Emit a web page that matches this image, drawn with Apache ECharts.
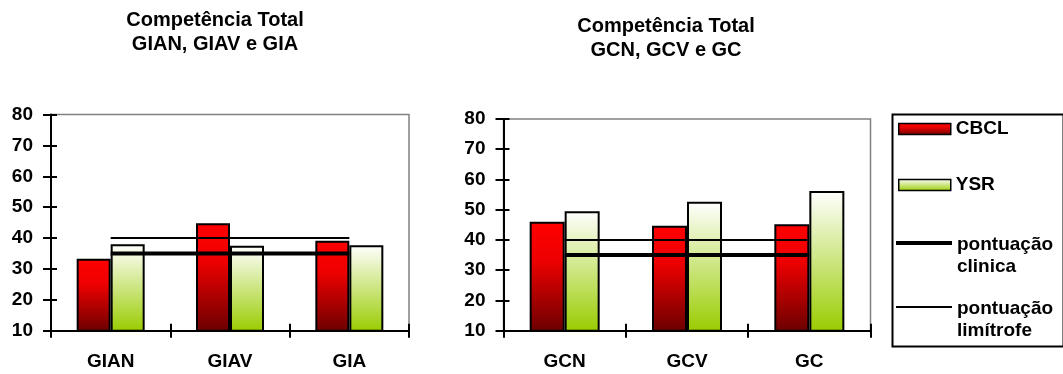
<!DOCTYPE html>
<html>
<head>
<meta charset="utf-8">
<script src="https://cdn.jsdelivr.net/npm/echarts@6/dist/echarts.min.js"></script>
<style>
  html, body { margin: 0; padding: 0; background: #fff; }
  #chart { width: 1063px; height: 374px; }
</style>
</head>
<body>
<div id="chart"></div>
<script>
// Competência Total — two groups of subscales, CBCL vs YSR scores
const categoriesA = ['GIAN', 'GIAV', 'GIA'];
const cbclA = [33.3, 44.8, 39.1];
const ysrA = [38.0, 37.5, 37.7];

const categoriesB = ['GCN', 'GCV', 'GC'];
const cbclB = [46.0, 44.7, 45.2];
const ysrB = [49.5, 52.6, 56.2];

// Reference cut-off scores drawn across each panel
const clinicalA = [35, 35, 35];
const borderlineA = [40, 40, 40];
const clinicalB = [35, 35, 35];
const borderlineB = [40, 40, 40];

const yTicks = { min: 10, max: 80, interval: 10 };

const FONT = '"Liberation Sans", Arial, sans-serif';

const redFill = new echarts.graphic.LinearGradient(0, 0, 0, 1, [
  { offset: 0, color: '#ff0000' },
  { offset: 0.35, color: '#ee0000' },
  { offset: 1, color: '#6b0000' }
]);
const greenFill = new echarts.graphic.LinearGradient(0, 0, 0, 1, [
  { offset: 0, color: '#ffffff' },
  { offset: 1, color: '#99cc00' }
]);

function mainX(gridIndex, data) {
  return {
    type: 'category', gridIndex, data, position: 'bottom',
    axisLine: { onZero: false, lineStyle: { color: '#000', width: 2 } },
    axisTick: { show: true, length: 7, lineStyle: { color: '#000', width: 2 } },
    axisLabel: { color: '#000', fontFamily: FONT, fontWeight: 'bold', fontSize: 19, margin: 22 },
    splitLine: { show: false }
  };
}
function innerX(gridIndex, data) {
  return {
    type: 'category', gridIndex, data, position: 'bottom',
    axisLine: { show: false, onZero: false },
    axisTick: { show: true, inside: true, length: 7, lineStyle: { color: '#000', width: 2 } },
    axisLabel: { show: false },
    splitLine: { show: false }
  };
}
function mainY(gridIndex) {
  return {
    type: 'value', gridIndex, position: 'left',
    min: yTicks.min, max: yTicks.max, interval: yTicks.interval,
    axisLine: { show: true, lineStyle: { color: '#000', width: 2 } },
    axisTick: { show: true, length: 8, lineStyle: { color: '#000', width: 2 } },
    axisLabel: { color: '#000', fontFamily: FONT, fontWeight: 'bold', fontSize: 19, margin: 18 },
    splitLine: { show: false }
  };
}
function innerY(gridIndex) {
  return {
    type: 'value', gridIndex, position: 'left',
    min: yTicks.min, max: yTicks.max, interval: yTicks.interval,
    axisLine: { show: false },
    axisTick: { show: true, inside: true, length: 6, lineStyle: { color: '#000', width: 2 } },
    axisLabel: { show: false },
    splitLine: { show: false }
  };
}

function bars(name, data, fill, axisIdx, width) {
  return {
    name, type: 'bar', data, xAxisIndex: axisIdx, yAxisIndex: axisIdx,
    barWidth: width, barGap: '0%',
    itemStyle: { color: fill, borderColor: '#000', borderWidth: 2 },
    z: 2
  };
}
function refLine(name, data, axisIdx, width) {
  return {
    name, type: 'line', data, xAxisIndex: axisIdx, yAxisIndex: axisIdx,
    symbol: 'none', showSymbol: false, lineStyle: { color: '#000', width },
    itemStyle: { color: '#000' },
    z: 5
  };
}

const legendText = {
  color: '#000', fontFamily: FONT, fontWeight: 'bold', fontSize: 19, lineHeight: 22
};
function legendItem(name, top, extra) {
  return Object.assign({
    data: [name], left: 898, top, padding: 0,
    itemWidth: 52, itemHeight: 11, selectedMode: false,
    textStyle: legendText
  }, extra);
}
// line entries: a flat black bar as key; an empty spacer line above the
// two-line caption keeps its first line level with the key
function lineLegendItem(name, top, thickness) {
  return legendItem(name, top, {
    left: 896, icon: 'rect', itemWidth: 56, itemHeight: thickness,
    itemStyle: { color: '#000', borderWidth: 0 },
    formatter: n => '{gap|\u00a0}\n{t|' + n.replace(' ', '}\n{t|') + '}',
    textStyle: Object.assign({}, legendText, {
      rich: {
        gap: { fontSize: 4, lineHeight: 26 },
        t: { color: '#000', fontFamily: FONT, fontWeight: 'bold', fontSize: 19, lineHeight: 22 }
      }
    })
  });
}

const chart = echarts.init(document.getElementById('chart'), null, { renderer: 'canvas' });
chart.setOption({
  animation: false,
  backgroundColor: '#fff',
  title: [
    {
      text: 'Competência Total\nGIAN, GIAV e GIA', left: 215, top: 8, textAlign: 'center', padding: 0,
      textStyle: { color: '#000', fontFamily: FONT, fontWeight: 'bold', fontSize: 20, lineHeight: 24 }
    },
    {
      text: 'Competência Total\nGCN, GCV e GC', left: 666, top: 14, textAlign: 'center', padding: 0,
      textStyle: { color: '#000', fontFamily: FONT, fontWeight: 'bold', fontSize: 20, lineHeight: 24 }
    }
  ],
  grid: [
    { left: 51, top: 114.5, width: 358, height: 216.2, show: true, borderColor: '#808080', borderWidth: 1.5, backgroundColor: 'transparent' },
    { left: 503.5, top: 119, width: 367, height: 211.7, show: true, borderColor: '#808080', borderWidth: 1.5, backgroundColor: 'transparent' }
  ],
  xAxis: [
    mainX(0, categoriesA), innerX(0, categoriesA),
    mainX(1, categoriesB), innerX(1, categoriesB)
  ],
  yAxis: [
    mainY(0), innerY(0),
    mainY(1), innerY(1)
  ],
  legend: [
    legendItem('CBCL', 118, { icon: 'rect', itemStyle: { borderColor: '#000', borderWidth: 1.5 } }),
    legendItem('YSR', 174, { icon: 'rect', itemStyle: { borderColor: '#000', borderWidth: 1.5 } }),
    lineLegendItem('pontuação clinica', 208, 4),
    lineLegendItem('pontuação limítrofe', 272, 2)
  ],
  graphic: [
    {
      type: 'rect', left: 890, top: 112, z: 0,
      shape: { width: 171, height: 232 },
      style: { fill: 'none', stroke: '#000', lineWidth: 2 }
    }
  ],
  series: [
    bars('CBCL', cbclA, redFill, 0, 34),
    bars('YSR', ysrA, greenFill, 0, 34),
    refLine('pontuação clinica', clinicalA, 0, 4),
    refLine('pontuação limítrofe', borderlineA, 0, 2),
    bars('CBCL', cbclB, redFill, 2, 35),
    bars('YSR', ysrB, greenFill, 2, 35),
    refLine('pontuação clinica', clinicalB, 2, 4),
    refLine('pontuação limítrofe', borderlineB, 2, 2)
  ]
});
</script>
</body>
</html>
